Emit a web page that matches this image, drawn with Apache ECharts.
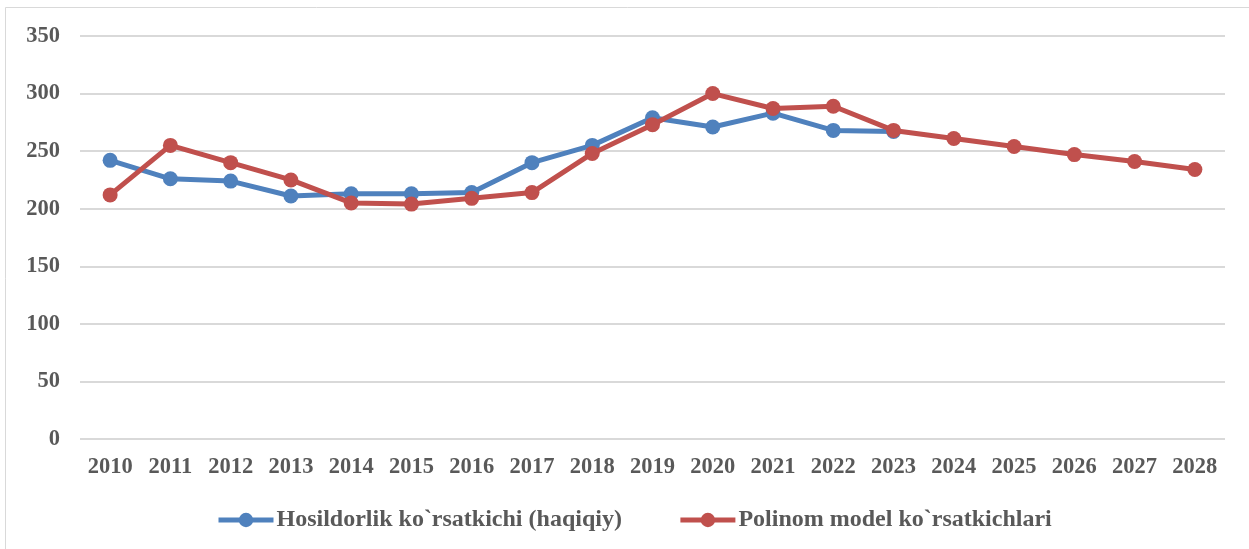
<!DOCTYPE html>
<html><head><meta charset="utf-8">
<script src="https://cdn.jsdelivr.net/npm/echarts@6/dist/echarts.min.js"></script>
<style>html,body{margin:0;padding:0;background:#fff}#c{width:1249px;height:549px}</style>
</head><body><div id="c"></div>
<script>
const years = ['2010','2011','2012','2013','2014','2015','2016','2017','2018','2019','2020','2021','2022','2023','2024','2025','2026','2027','2028'];
const actual = [242, 226, 224, 211, 213, 213, 214, 240, 255, 279, 271, 283, 268, 267, null, null, null, null, null];
const model = [212, 255, 240, 225, 205, 204, 209, 214, 248, 273, 300, 287, 289, 268, 261, 254, 247, 241, 234];
const seriesNames = ['Hosildorlik ko`rsatkichi (haqiqiy)', 'Polinom model ko`rsatkichlari'];
const yTicks = { min: 0, max: 350, interval: 50 };

const font = 'Liberation Serif, Times New Roman, serif';
const chart = echarts.init(document.getElementById('c'), null, {renderer: 'canvas'});
chart.setOption({
  animation: false,
  backgroundColor: '#fff',
  graphic: [{type: 'rect', shape: {x: 5.5, y: 7.5, width: 1260, height: 560}, style: {fill: 'none', stroke: '#d9d9d9', lineWidth: 1}, silent: true}],
  grid: {left: 80, right: 24, top: 36, bottom: 110, containLabel: false},
  legend: {
    bottom: 12, left: 211, itemGap: 56, itemWidth: 55, itemHeight: 18,
    lineStyle: {width: 5},
    textStyle: {fontFamily: font, fontWeight: 'bold', fontSize: 24, color: '#595959', padding: [0, 0, 0, -2]},
    data: seriesNames
  },
  xAxis: {
    type: 'category', data: years, boundaryGap: true,
    axisLine: {show: false}, axisTick: {show: false},
    axisLabel: {fontFamily: font, fontWeight: 'bold', fontSize: 22.5, color: '#595959', margin: 17}
  },
  yAxis: {
    type: 'value', min: yTicks.min, max: yTicks.max, interval: yTicks.interval,
    axisLine: {show: false}, axisTick: {show: false},
    axisLabel: {fontFamily: font, fontWeight: 'bold', fontSize: 22.5, color: '#595959', margin: 20},
    splitLine: {lineStyle: {color: '#d9d9d9', width: 2}}
  },
  series: [
    {name: seriesNames[0], type: 'line', data: actual, color: '#4F81BD', symbol: 'circle', symbolSize: 15,
     lineStyle: {width: 5, color: '#4F81BD'}, itemStyle: {color: '#4F81BD'}, connectNulls: false, z: 2},
    {name: seriesNames[1], type: 'line', data: model, color: '#C0504D', symbol: 'circle', symbolSize: 15,
     lineStyle: {width: 5, color: '#C0504D'}, itemStyle: {color: '#C0504D'}, z: 3}
  ]
});
</script></body></html>
